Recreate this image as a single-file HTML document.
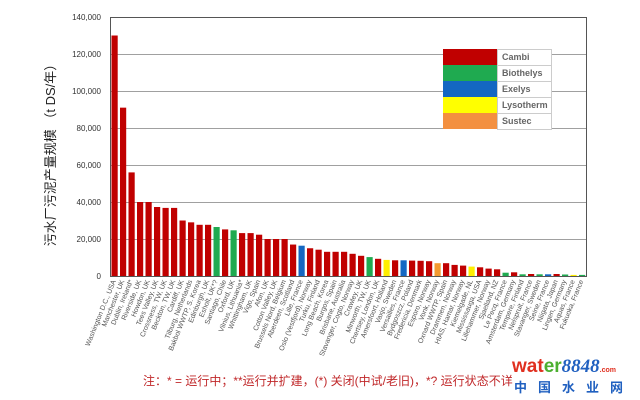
<!DOCTYPE html>
<html><head><meta charset="utf-8"><style>
html,body{margin:0;padding:0;background:#fff;width:640px;height:400px;overflow:hidden}
svg{display:block}
</style></head><body>
<svg width="640" height="400" xmlns="http://www.w3.org/2000/svg" font-family="Liberation Sans, sans-serif">
<rect width="640" height="400" fill="#fff"/>
<g stroke="#a0a0a0" stroke-width="1">
<line x1="110" x2="587" y1="239.5" y2="239.5"/>
<line x1="110" x2="587" y1="202.5" y2="202.5"/>
<line x1="110" x2="587" y1="165.5" y2="165.5"/>
<line x1="110" x2="587" y1="128.5" y2="128.5"/>
<line x1="110" x2="587" y1="91.5" y2="91.5"/>
<line x1="110" x2="587" y1="54.5" y2="54.5"/>
</g>
<rect x="110.5" y="17.5" width="476" height="259" fill="none" stroke="#555" stroke-width="1"/>
<g font-size="8" fill="#333" text-anchor="end">
<text x="101" y="279">0</text>
<text x="101" y="242">20,000</text>
<text x="101" y="205">40,000</text>
<text x="101" y="168">60,000</text>
<text x="101" y="131">80,000</text>
<text x="101" y="94">100,000</text>
<text x="101" y="57">120,000</text>
<text x="101" y="20">140,000</text>
</g>
<text transform="translate(55,152) rotate(-90)" text-anchor="middle" font-size="13" fill="#222" font-family="Liberation Sans, Noto Sans CJK SC, sans-serif">污水厂污泥产量规模  （t DS/年）</text>
<g>
<rect x="111.5" y="35.5" width="6.2" height="240.5" fill="#c00000"/>
<rect x="120" y="107.65" width="6.2" height="168.35" fill="#c00000"/>
<rect x="128.5" y="172.4" width="6.2" height="103.6" fill="#c00000"/>
<rect x="137" y="202" width="6.2" height="74" fill="#c00000"/>
<rect x="145.5" y="202" width="6.2" height="74" fill="#c00000"/>
<rect x="154" y="207" width="6.2" height="69" fill="#c00000"/>
<rect x="162.5" y="207.9" width="6.2" height="68.1" fill="#c00000"/>
<rect x="171" y="207.9" width="6.2" height="68.1" fill="#c00000"/>
<rect x="179.5" y="220.5" width="6.2" height="55.5" fill="#c00000"/>
<rect x="188" y="222.35" width="6.2" height="53.65" fill="#c00000"/>
<rect x="196.5" y="224.8" width="6.2" height="51.2" fill="#c00000"/>
<rect x="205" y="224.8" width="6.2" height="51.2" fill="#c00000"/>
<rect x="213.5" y="227" width="6.2" height="49" fill="#1faa50"/>
<rect x="222" y="229.4" width="6.2" height="46.6" fill="#c00000"/>
<rect x="230.5" y="230.3" width="6.2" height="45.7" fill="#1faa50"/>
<rect x="239" y="233.1" width="6.2" height="42.9" fill="#c00000"/>
<rect x="247.5" y="233.1" width="6.2" height="42.9" fill="#c00000"/>
<rect x="256" y="234.7" width="6.2" height="41.3" fill="#c00000"/>
<rect x="264.5" y="239" width="6.2" height="37" fill="#c00000"/>
<rect x="273" y="239" width="6.2" height="37" fill="#c00000"/>
<rect x="281.5" y="239" width="6.2" height="37" fill="#c00000"/>
<rect x="290" y="244.55" width="6.2" height="31.45" fill="#c00000"/>
<rect x="298.5" y="245.7" width="6.2" height="30.3" fill="#1467c2"/>
<rect x="307" y="248.25" width="6.2" height="27.75" fill="#c00000"/>
<rect x="315.5" y="249.7" width="6.2" height="26.3" fill="#c00000"/>
<rect x="324" y="251.8" width="6.2" height="24.2" fill="#c00000"/>
<rect x="332.5" y="251.8" width="6.2" height="24.2" fill="#c00000"/>
<rect x="341" y="251.8" width="6.2" height="24.2" fill="#c00000"/>
<rect x="349.5" y="253.8" width="6.2" height="22.2" fill="#c00000"/>
<rect x="358" y="255.8" width="6.2" height="20.2" fill="#c00000"/>
<rect x="366.5" y="257.1" width="6.2" height="18.9" fill="#1faa50"/>
<rect x="375" y="258.8" width="6.2" height="17.2" fill="#c00000"/>
<rect x="383.5" y="259.9" width="6.2" height="16.1" fill="#ffee00"/>
<rect x="392" y="260.3" width="6.2" height="15.7" fill="#c00000"/>
<rect x="400.5" y="260.3" width="6.2" height="15.7" fill="#1467c2"/>
<rect x="409" y="260.6" width="6.2" height="15.4" fill="#c00000"/>
<rect x="417.5" y="260.8" width="6.2" height="15.2" fill="#c00000"/>
<rect x="426" y="261.2" width="6.2" height="14.8" fill="#c00000"/>
<rect x="434.5" y="263.2" width="6.2" height="12.8" fill="#f39a30"/>
<rect x="443" y="263.2" width="6.2" height="12.8" fill="#c00000"/>
<rect x="451.5" y="264.9" width="6.2" height="11.1" fill="#c00000"/>
<rect x="460" y="265.6" width="6.2" height="10.4" fill="#c00000"/>
<rect x="468.5" y="266.6" width="6.2" height="9.4" fill="#ffee00"/>
<rect x="477" y="267.3" width="6.2" height="8.7" fill="#c00000"/>
<rect x="485.5" y="268.6" width="6.2" height="7.4" fill="#c00000"/>
<rect x="494" y="269.3" width="6.2" height="6.7" fill="#c00000"/>
<rect x="502.5" y="272.7" width="6.2" height="3.3" fill="#1faa50"/>
<rect x="511" y="272.3" width="6.2" height="3.7" fill="#c00000"/>
<rect x="519.5" y="274.3" width="6.2" height="1.7" fill="#1faa50"/>
<rect x="528" y="274" width="6.2" height="2" fill="#c00000"/>
<rect x="536.5" y="274.3" width="6.2" height="1.7" fill="#1faa50"/>
<rect x="545" y="274.3" width="6.2" height="1.7" fill="#1467c2"/>
<rect x="553.5" y="274" width="6.2" height="2" fill="#c00000"/>
<rect x="562" y="274.5" width="6.2" height="1.5" fill="#1faa50"/>
<rect x="570.5" y="274.9" width="6.2" height="1.1" fill="#ffee00"/>
<rect x="579" y="274.9" width="6.2" height="1.1" fill="#1faa50"/>
</g>
<g font-size="7" fill="#555" text-anchor="end">
<text transform="translate(116,281) rotate(-68)">Washington D.C., USA</text>
<text transform="translate(124.5,281) rotate(-68)">Manchester, UK</text>
<text transform="translate(133,281) rotate(-68)">Dublin, Ireland*</text>
<text transform="translate(141.5,281) rotate(-68)">Riverside, UK</text>
<text transform="translate(150,281) rotate(-68)">Howdon, UK</text>
<text transform="translate(158.5,281) rotate(-68)">Tees Valley, UK</text>
<text transform="translate(167,281) rotate(-68)">Crossness, TW, UK</text>
<text transform="translate(175.5,281) rotate(-68)">Beckton, TW, UK</text>
<text transform="translate(184,281) rotate(-68)">Cardiff, UK</text>
<text transform="translate(192.5,281) rotate(-68)">Tilburg, Netherlands</text>
<text transform="translate(201,281) rotate(-68)">Bakbol WWTP, S. Korea</text>
<text transform="translate(209.5,281) rotate(-68)">Edinburgh, UK</text>
<text transform="translate(218,281) rotate(-68)">Esholt, UK*?</text>
<text transform="translate(226.5,281) rotate(-68)">Santiago, Chile</text>
<text transform="translate(235,281) rotate(-68)">Oxford, UK</text>
<text transform="translate(243.5,281) rotate(-68)">Vilnius, Lithuania*</text>
<text transform="translate(252,281) rotate(-68)">Whittingham, UK</text>
<text transform="translate(260.5,281) rotate(-68)">Vigo, Spain</text>
<text transform="translate(269,281) rotate(-68)">Afon, UK</text>
<text transform="translate(277.5,281) rotate(-68)">Cotton Valley, UK</text>
<text transform="translate(286,281) rotate(-68)">Brussels Nord, Belgium</text>
<text transform="translate(294.5,281) rotate(-68)">Aberdeen, Scotland</text>
<text transform="translate(303,281) rotate(-68)">Lille, France</text>
<text transform="translate(311.5,281) rotate(-68)">Oslo (Vestfjord), Norway</text>
<text transform="translate(320,281) rotate(-68)">Turku, Finland</text>
<text transform="translate(328.5,281) rotate(-68)">Long Beach, Korea</text>
<text transform="translate(337,281) rotate(-68)">Burgos, Spain</text>
<text transform="translate(345.5,281) rotate(-68)">Brisbane, Australia</text>
<text transform="translate(354,281) rotate(-68)">Stavanger, Cogto, Norway</text>
<text transform="translate(362.5,281) rotate(-68)">Crawley, UK</text>
<text transform="translate(371,281) rotate(-68)">Minworth, TW, UK</text>
<text transform="translate(379.5,281) rotate(-68)">Chertsey, London, UK</text>
<text transform="translate(388,281) rotate(-68)">Amersfoort, Holland</text>
<text transform="translate(396.5,281) rotate(-68)">Vaxjo, Sweden</text>
<text transform="translate(405,281) rotate(-68)">Versailles, France</text>
<text transform="translate(413.5,281) rotate(-68)">Bydgoszcz, Poland</text>
<text transform="translate(422,281) rotate(-68)">Fredericia, Denmark</text>
<text transform="translate(430.5,281) rotate(-68)">Esporo, Norway</text>
<text transform="translate(439,281) rotate(-68)">Vonk, Norway</text>
<text transform="translate(447.5,281) rotate(-68)">Oxnard WWTP, Spain</text>
<text transform="translate(456,281) rotate(-68)">Drammen, Norway</text>
<text transform="translate(464.5,281) rotate(-68)">HIAS, Hamar, Norway</text>
<text transform="translate(473,281) rotate(-68)">Kiemelgade, NL</text>
<text transform="translate(481.5,281) rotate(-68)">Mississauga, USA</text>
<text transform="translate(490,281) rotate(-68)">Lillehammer, Norway</text>
<text transform="translate(498.5,281) rotate(-68)">Sjaelland, NZ</text>
<text transform="translate(507,281) rotate(-68)">Le Pecq, France</text>
<text transform="translate(515.5,281) rotate(-68)">Amsterdam, Germany</text>
<text transform="translate(524,281) rotate(-68)">Tempere, Finland</text>
<text transform="translate(532.5,281) rotate(-68)">Nelspruit, France</text>
<text transform="translate(541,281) rotate(-68)">Stavanger, Sweden</text>
<text transform="translate(549.5,281) rotate(-68)">Seine, France</text>
<text transform="translate(558,281) rotate(-68)">Niigata, Japan</text>
<text transform="translate(566.5,281) rotate(-68)">Lingen, Germany</text>
<text transform="translate(575,281) rotate(-68)">Aquas, France</text>
<text transform="translate(583.5,281) rotate(-68)">Fukuoka, France</text>
</g>
<g font-size="9" font-weight="bold" fill="#666">
<rect x="443" y="49" width="54" height="16" fill="#c00000"/>
<rect x="443" y="65" width="54" height="16" fill="#1faa50"/>
<rect x="443" y="81" width="54" height="16" fill="#1467c2"/>
<rect x="443" y="97" width="54" height="16" fill="#ffff00"/>
<rect x="443" y="113" width="54" height="16" fill="#f39040"/>
<rect x="497.5" y="49.5" width="54" height="80" fill="#fff" stroke="#ccc"/>
<line x1="497" x2="552" y1="65.5" y2="65.5" stroke="#ccc"/>
<line x1="497" x2="552" y1="81.5" y2="81.5" stroke="#ccc"/>
<line x1="497" x2="552" y1="97.5" y2="97.5" stroke="#ccc"/>
<line x1="497" x2="552" y1="113.5" y2="113.5" stroke="#ccc"/>
<text x="502" y="60">Cambi</text>
<text x="502" y="76">Biothelys</text>
<text x="502" y="92">Exelys</text>
<text x="502" y="108">Lysotherm</text>
<text x="502" y="124">Sustec</text>
</g>
<text x="143" y="385" font-size="12" fill="#c0282a" font-family="Liberation Sans, Noto Sans CJK SC, sans-serif">注：* = 运行中；**运行并扩建，(*) 关闭(中试/老旧)，*? 运行状态不详</text>
<text x="512" y="372" font-size="19" font-weight="bold" font-family="Liberation Sans, sans-serif"><tspan fill="#e03020">wat</tspan><tspan fill="#4caf30">er</tspan><tspan fill="#2060c0" font-style="italic" font-family="Liberation Serif, serif">8848</tspan><tspan fill="#e03020" font-size="7">.com</tspan></text>
<text x="514" y="392" font-size="13" font-weight="bold" fill="#2060c0" letter-spacing="11" font-family="Liberation Sans, Noto Sans CJK SC, sans-serif">中国水业网</text>
</svg>
</body></html>
